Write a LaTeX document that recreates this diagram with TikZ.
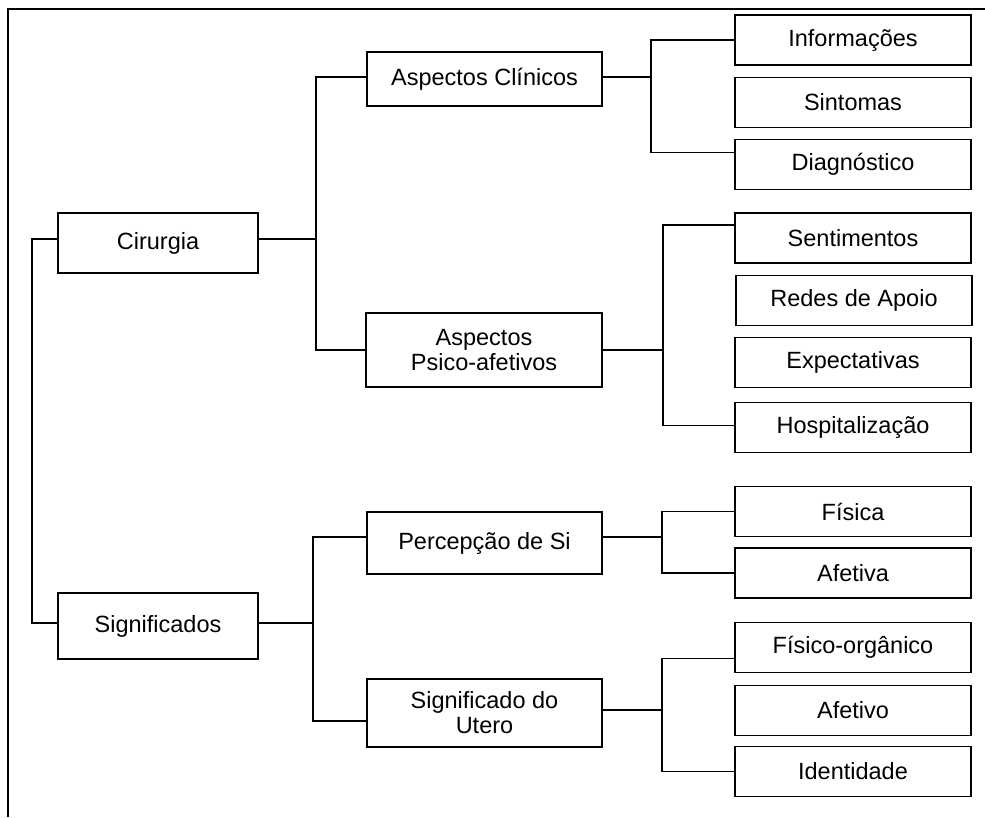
\documentclass[tikz,border=0pt]{standalone}
\usepackage{fontspec}
\setmainfont{Liberation Sans}
\begin{document}
\begin{tikzpicture}[x=1pt,y=-1pt,line width=1.4pt]

      \useasboundingbox (0,0) rectangle (985,817);
      \draw (8,817) -- (8,9) -- (985,9);

      \begin{scope}[every node/.style={draw, rectangle, inner sep=0pt, align=center,
          font=\fontsize{23.5}{25}\selectfont, minimum height=50pt, minimum width=236pt}]
        \node (cir)    at (158,243)   [minimum width=200pt, minimum height=60pt] {Cirurgia};
        \node (sig)    at (158,626)   [minimum width=200pt, minimum height=66pt] {Significados};
        \node (aclin)  at (484.5,79)  [minimum width=235pt, minimum height=54pt] {Aspectos Clínicos};
        \node (apsi)   at (484,350)   [minimum height=74pt] {Aspectos\\Psico-afetivos};
        \node (perc)   at (484.5,543) [minimum width=235pt, minimum height=62pt] {Percepção de Si};
        \node (utero)  at (484.5,713) [minimum width=235pt, minimum height=68pt] {Significado do\\Utero};
        \node (info)   at (853,40)    {Informações};
        \node (sint)   at (853,102.5) {Sintomas};
        \node (diag)   at (853,164.5) {Diagnóstico};
        \node (sent)   at (853,238)   {Sentimentos};
        \node (redes)  at (854,300.5) {Redes de Apoio};
        \node (expe)   at (853,362.5) {Expectativas};
        \node (hosp)   at (853,427.5) {Hospitalização};
        \node (fis)    at (853,511.5) {Física};
        \node (afa)    at (853,573)   {Afetiva};
        \node (fisorg) at (853,647.5) {Físico-orgânico};
        \node (afo)    at (853,710.5) {Afetivo};
        \node (iden)   at (853,771.5) {Identidade};
      \end{scope}

      % spines of the brackets
      \coordinate (s0) at (32,0);
      \coordinate (s1) at (316,0);
      \coordinate (s2) at (313,0);
      \coordinate (s3) at (651,0);
      \coordinate (s4) at (663,0);
      \coordinate (s5) at (662,0);

      % attachment points off the box middles
      \coordinate (cirw)   at ([yshift=4pt]cir.west);
      \coordinate (cire)   at ([yshift=4pt]cir.east);
      \coordinate (sigw)   at ([yshift=3pt]sig.west);
      \coordinate (sige)   at ([yshift=3pt]sig.east);
      \coordinate (aclinw) at ([yshift=2pt]aclin.west);
      \coordinate (acline) at ([yshift=2pt]aclin.east);
      \coordinate (percw)  at ([yshift=6pt]perc.west);
      \coordinate (perce)  at ([yshift=6pt]perc.east);
      \coordinate (uterow) at ([yshift=-8pt]utero.west);
      \coordinate (uteroe) at ([yshift=3pt]utero.east);
      \coordinate (diagw)  at ([yshift=12pt]diag.west);
      \coordinate (sentw)  at ([yshift=13pt]sent.west);
      \coordinate (hospw)  at ([yshift=2pt]hosp.west);
      \coordinate (fisorgw) at ([yshift=-11pt]fisorg.west);

      \draw (cirw) -| (s0 |- sigw) -- (sigw);

      \draw (cire) -- (cire -| s1);
      \draw (aclinw) -| (s1 |- apsi.west) -- (apsi.west);

      \draw (sige) -- (sige -| s2);
      \draw (percw) -| (s2 |- uterow) -- (uterow);

      \draw (acline) -- (acline -| s3);
      \draw (info.west) -| (s3 |- diagw) -- (diagw);

      \draw (apsi.east) -- (apsi.east -| s4);
      \draw (sentw) -| (s4 |- hospw) -- (hospw);

      \draw (perce) -- (perce -| s5);
      \draw (fis.west) -| (s5 |- afa.west) -- (afa.west);

      \draw (uteroe) -- (uteroe -| s5);
      \draw (fisorgw) -| (s5 |- iden.west) -- (iden.west);

    \end{tikzpicture}
\end{document}
